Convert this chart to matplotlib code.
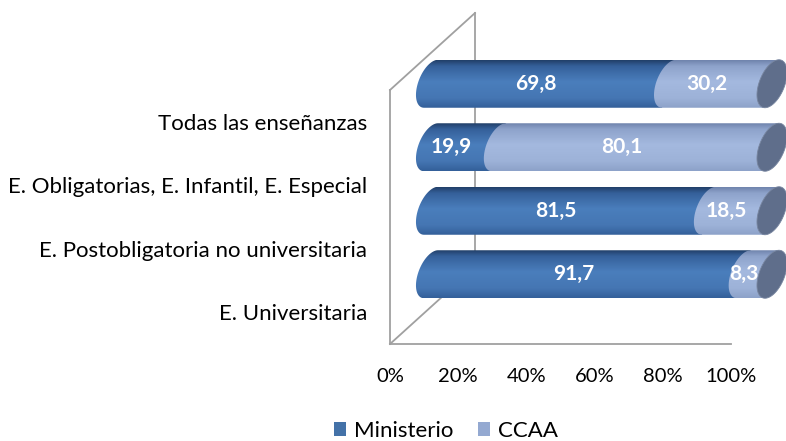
import numpy as np
import matplotlib
matplotlib.use("Agg")
import matplotlib.pyplot as plt
import matplotlib.transforms as mtransforms
from matplotlib.patches import PathPatch, Polygon, Patch
from matplotlib.path import Path
from matplotlib.colors import LinearSegmentedColormap

# ---------------- data ----------------
categories = ["Todas las enseñanzas",
              "E. Obligatorias, E. Infantil, E. Especial",
              "E. Postobligatoria no universitaria",
              "E. Universitaria"]
ministerio = [69.8, 19.9, 81.5, 91.7]
ccaa = [30.2, 80.1, 18.5, 8.3]
series_names = ["Ministerio", "CCAA"]
xticks = [0, 20, 40, 60, 80, 100]
xtick_labels = ["0%", "20%", "40%", "60%", "80%", "100%"]

plt.rcParams['font.family'] = ['Lato', 'DejaVu Sans']

W, H = 786, 441
fig = plt.figure(figsize=(W / 100, H / 100), dpi=100)
fig.patch.set_facecolor("white")

# front plane of the 3D box (pixels)
ax_l, ax_r, ax_t, ax_b = 390, 731, 90, 344
ax = fig.add_axes([ax_l / W, (H - ax_b) / H, (ax_r - ax_l) / W, (ax_b - ax_t) / H])
ax.set_xlim(0, 100)
ax.set_ylim(len(categories) - 0.5, -0.5)
ax.set_autoscale_on(False)
ax.patch.set_alpha(0)

# depth offsets (pixels)
depth_x, depth_y = 85, 77
bar_dx, bar_dy = 41, 38
bar_tr = mtransforms.offset_copy(ax.transData, fig=fig, x=bar_dx, y=bar_dy, units='dots')

px_per_x = (ax_r - ax_l) / 100.0
rx = 13.3 / px_per_x        # ellipse half width (data units)
shear = 7.0 / px_per_x      # horizontal lean of the ellipse top
bar_h = 48 / ((ax_b - ax_t) / len(categories))

line_col = "#a0a0a0"
# frame lines (3D box)
fx, fy = depth_x / (ax_r - ax_l), depth_y / (ax_b - ax_t)
for s in ['top', 'right']:
    ax.spines[s].set_visible(False)
for s in ['left', 'bottom']:
    ax.spines[s].set_color(line_col)
    ax.spines[s].set_linewidth(1.3)
ax.plot([0, fx], [1, 1 + fy], transform=ax.transAxes, color=line_col, lw=1.3, clip_on=False, zorder=1)
ax.plot([fx, fx], [fy, 1 + fy], transform=ax.transAxes, color=line_col, lw=1.3, clip_on=False, zorder=1)
ax.plot([0, fx], [0, fy], transform=ax.transAxes, color=line_col, lw=1.3, clip_on=False, zorder=1)

dark_cmap = LinearSegmentedColormap.from_list("d", [
    (0.0, "#22406a"), (0.12, "#35609a"), (0.45, "#4a7ebc"), (0.8, "#4576b3"), (1.0, "#34609a")])
light_cmap = LinearSegmentedColormap.from_list("l", [
    (0.0, "#7084ad"), (0.12, "#8ea3cb"), (0.45, "#a4b9df"), (0.8, "#9db2d8"), (1.0, "#8da2c9")])

grad = np.linspace(0, 1, 64).reshape(-1, 1)


def ellipse_pts(cx, yc, t):
    u = np.sin(t)                       # +1 at top of bar
    xs = cx + rx * np.cos(t) + shear * u
    ys = yc - (bar_h / 2) * u           # y axis inverted
    return xs, ys


def segment(a, b, yc, cmap, z):
    # body from a to b with a (leaning) left half-ellipse end at a
    t = np.linspace(np.pi / 2, 3 * np.pi / 2, 50)
    xs, ys = ellipse_pts(a, yc, t)
    verts = list(zip(xs, ys)) + [(b - shear, yc + bar_h / 2), (b + shear, yc - bar_h / 2),
                                 (xs[0], ys[0])]
    codes = [Path.MOVETO] + [Path.LINETO] * (len(verts) - 2) + [Path.CLOSEPOLY]
    patch = PathPatch(Path(verts, codes), transform=bar_tr, facecolor='none', edgecolor='none')
    im = ax.imshow(grad, cmap=cmap, aspect='auto', interpolation='bilinear',
                   extent=(a - 2 * rx - shear, b + shear + 0.01, yc + bar_h / 2, yc - bar_h / 2),
                   transform=bar_tr, zorder=z)
    im.set_clip_box(fig.bbox)
    im.set_clip_path(patch)


lbl_tr = mtransforms.offset_copy(ax.transData, fig=fig, x=bar_dx - 14, y=bar_dy, units='dots')

for i, (m, c) in enumerate(zip(ministerio, ccaa)):
    z = 3 + i * 0.1
    segment(0, m, i, dark_cmap, z)
    segment(m, m + c, i, light_cmap, z + 0.01)
    t = np.linspace(0, 2 * np.pi, 100)
    xs, ys = ellipse_pts(m + c, i, t)
    cap = Polygon(np.column_stack([xs, ys]), closed=True, transform=bar_tr,
                  facecolor="#5f6e8b", edgecolor="#7886a0", lw=0.6, clip_on=False, zorder=z + 0.02)
    ax.add_patch(cap)
    ax.text(m / 2, i, f"{m:.1f}".replace(".", ","), transform=lbl_tr, ha='center', va='center',
            color='white', fontsize=15, fontweight='bold', zorder=10)
    ax.text(m + c / 2, i, f"{c:.1f}".replace(".", ","), transform=lbl_tr, ha='center', va='center',
            color='white', fontsize=15, fontweight='bold', zorder=10)

ax.set_xticks(xticks)
ax.set_xticklabels(xtick_labels, fontsize=14.5, color="#000000")
ax.set_yticks(range(len(categories)))
ax.set_yticklabels(categories, fontsize=16, color="#000000")
ax.tick_params(axis='x', length=0, pad=17)
ax.tick_params(axis='y', length=0, pad=16.5)

handles = [Patch(facecolor="#4472a8", label=series_names[0]),
           Patch(facecolor="#94a9d1", label=series_names[1])]
fig.legend(handles=handles, loc='center', bbox_to_anchor=(446 / W, 1 - 431 / H), ncol=2,
           frameon=False, fontsize=16, handlelength=0.55, handleheight=0.55,
           handletextpad=0.35, columnspacing=1.1, borderpad=0)

fig.savefig("out.png", dpi=100)
